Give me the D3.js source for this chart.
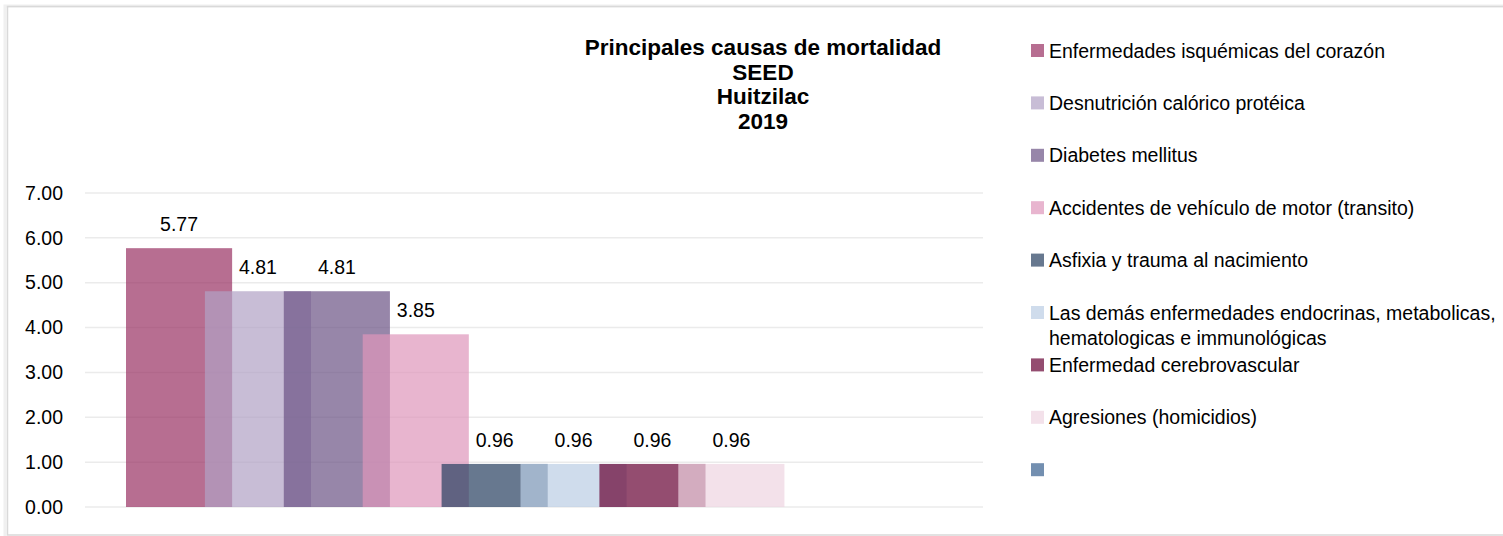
<!DOCTYPE html>
<html>
<head>
<meta charset="utf-8">
<script src="https://cdnjs.cloudflare.com/ajax/libs/d3/7.8.5/d3.min.js"></script>
<style>
	html, body { margin: 0; padding: 0; background: #fff; }
	svg text { font-family: "Liberation Sans", Arial, sans-serif; fill: #000; }
</style>
</head>
<body>
<svg id="chart" width="1503" height="536"></svg>
<script>
var titleLines = ["Principales causas de mortalidad", "SEED", "Huitzilac", "2019"];
var seriesNames = [
	"Enfermedades isquémicas del corazón",
	"Desnutrición calórico protéica",
	"Diabetes mellitus",
	"Accidentes de vehículo de motor (transito)",
	"Asfixia y trauma al nacimiento",
	"Las demás enfermedades endocrinas, metabolicas, hematologicas e immunológicas",
	"Enfermedad cerebrovascular",
	"Agresiones (homicidios)",
	""
];
var seriesValues = [5.77, 4.81, 4.81, 3.85, 0.96, 0.96, 0.96, 0.96, null];
var seriesColors = ["#983063", "#b0a1c4", "#6b5385", "#de95bb", "#263e5f", "#bacde4", "#660133", "#eed4e1", "#37608f"];
var yTicks = [0, 1, 2, 3, 4, 5, 6, 7];

var svg = d3.select("#chart");
var fontSize = 19.5;
var barOpacity = 0.7;

// frame
svg.append("rect")
	.attr("x", 5).attr("y", 6).attr("width", 1510).attr("height", 540)
	.attr("fill", "none").attr("stroke", "#f0f0f0").attr("stroke-width", 3);
svg.append("rect")
	.attr("x", 7.5).attr("y", 6.5).attr("width", 1510).attr("height", 528.5)
	.attr("fill", "none").attr("stroke", "#d9d9d9").attr("stroke-width", 1.5);

// scales
var y = d3.scaleLinear().domain([0, 7]).range([507, 193]);
var plotLeft = 85, plotRight = 983;
var xs = d3.scaleBand()
	.domain(d3.range(seriesNames.length))
	.range([126, 126 + 78.9 * seriesNames.length]);
var barWidth = xs.bandwidth() * 1.345;

// gridlines
svg.append("g").selectAll("line").data(yTicks).enter()
	.append("line")
	.attr("x1", plotLeft).attr("x2", plotRight)
	.attr("y1", function(d){ return y(d); })
	.attr("y2", function(d){ return y(d); })
	.attr("stroke", "#ebebeb")
	.attr("stroke-width", 1.5);

// y axis labels
var yAxis = d3.axisLeft(y).tickValues(yTicks).tickSize(0).tickPadding(0)
	.tickFormat(d3.format(".2f"));
var gy = svg.append("g").attr("transform", "translate(63,0)").call(yAxis);
gy.select(".domain").remove();
gy.selectAll("text")
	.style("font-size", fontSize + "px")
	.style("font-family", "'Liberation Sans', Arial, sans-serif")
	.attr("fill", "#000");

// bars (later series drawn on top, semi transparent)
var barData = seriesValues.map(function(v, i){ return { i: i, v: v }; })
	.filter(function(d){ return d.v !== null; });
svg.append("g").selectAll("rect").data(barData).enter()
	.append("rect")
	.attr("x", function(d){ return xs(d.i); })
	.attr("y", function(d){ return y(d.v); })
	.attr("width", barWidth)
	.attr("height", function(d){ return y(0) - y(d.v); })
	.attr("fill", function(d){ return seriesColors[d.i]; })
	.attr("fill-opacity", barOpacity);

// data labels
svg.append("g").selectAll("text").data(barData).enter()
	.append("text")
	.attr("x", function(d){ return xs(d.i) + barWidth / 2; })
	.attr("y", function(d){ return y(d.v) - 17; })
	.attr("text-anchor", "middle")
	.style("font-size", fontSize + "px")
	.text(function(d){ return d3.format(".2f")(d.v); });

// title
svg.append("g")
	.attr("transform", "translate(763,55)")
	.append("text")
	.attr("text-anchor", "middle")
	.style("font-size", "22.5px")
	.style("font-weight", "bold")
	.selectAll("tspan").data(titleLines).enter()
	.append("tspan")
	.attr("x", 0)
	.attr("dy", function(d, i){ return i === 0 ? 0 : 24.5; })
	.text(function(d){ return d; });

// legend
var legendLines = [
	["Enfermedades isquémicas del corazón"],
	["Desnutrición calórico protéica"],
	["Diabetes mellitus"],
	["Accidentes de vehículo de motor (transito)"],
	["Asfixia y trauma al nacimiento"],
	["Las demás enfermedades endocrinas, metabolicas,", "hematologicas e immunológicas"],
	["Enfermedad cerebrovascular"],
	["Agresiones (homicidios)"],
	[""]
];
var legend = svg.append("g").attr("transform", "translate(1031,44)");
var items = legend.selectAll("g").data(seriesNames).enter()
	.append("g")
	.attr("transform", function(d, i){ return "translate(0," + (i * 52.4) + ")"; });
items.append("rect")
	.attr("width", 13).attr("height", 13)
	.attr("fill", function(d, i){ return seriesColors[i]; })
	.attr("fill-opacity", barOpacity);
items.append("text")
	.attr("x", 18).attr("y", 13.5)
	.style("font-size", fontSize + "px")
	.selectAll("tspan").data(function(d, i){ return legendLines[i]; }).enter()
	.append("tspan")
	.attr("x", 18)
	.attr("dy", function(d, j){ return j === 0 ? 0 : 25; })
	.text(function(d){ return d; });
</script>
</body>
</html>
